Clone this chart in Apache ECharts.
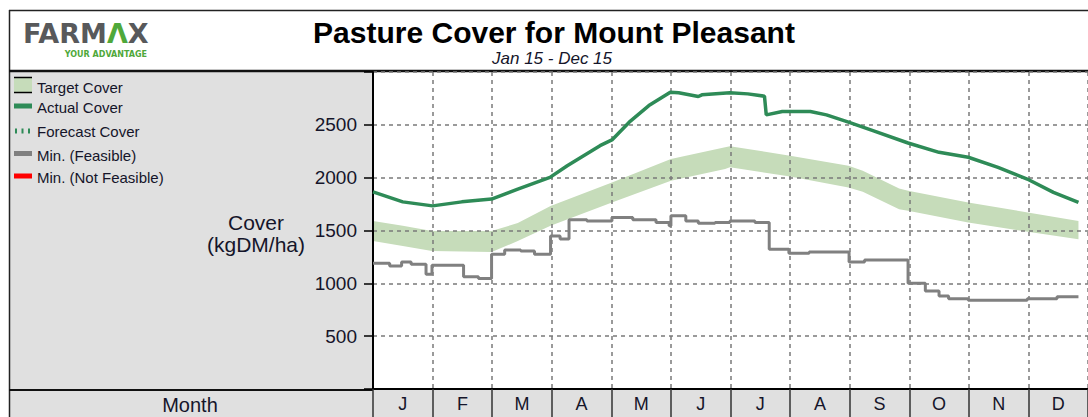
<!DOCTYPE html>
<html><head><meta charset="utf-8">
<script src="https://cdn.jsdelivr.net/npm/echarts@6/dist/echarts.min.js"></script>
<style>html,body{margin:0;padding:0;background:#fff}#c{width:1088px;height:417px}</style>
</head><body><div id="c"></div>
<script>
// ---- data (x positions in months from the left edge of January) ----
const months = ['J','F','M','A','M','J','J','A','S','O','N','D'];
const yTicks = [500, 1000, 1500, 2000, 2500];
const legendNames = ['Target Cover','Actual Cover','Forecast Cover','Min. (Feasible)','Min. (Not Feasible)'];

const actualMonth = [0.00,0.50,1.00,1.49,1.99,2.43,2.97,3.26,3.81,4.01,4.30,4.63,4.99,5.13,5.46,5.52,5.99,6.29,6.57,6.60,6.87,7.34,7.61,7.98,8.39,8.98,9.50,9.99,10.49,10.98,11.42,11.84];
const actualCover = [1866,1771,1733,1771,1797,1892,2003,2113,2303,2357,2525,2682,2809,2803,2768,2784,2803,2793,2771,2594,2626,2626,2594,2525,2445,2328,2240,2193,2098,1987,1861,1766];

const targetMonth = [0.00,0.50,0.99,1.99,2.43,2.98,4.01,5.00,5.91,5.99,7.00,7.98,8.22,8.83,8.98,9.99,10.99,11.84];
const targetLow  = [1401,1354,1307,1297,1400,1544,1766,1971,2082,2098,2012,1908,1866,1702,1686,1576,1487,1418];
const targetHigh = [1591,1544,1496,1496,1570,1733,1955,2177,2288,2297,2208,2113,2065,1898,1876,1766,1671,1591];

const minMonth = [0.00,0.28,0.48,0.64,0.89,0.99,1.52,1.77,1.99,2.21,2.48,2.71,2.98,3.14,3.29,3.59,4.01,4.36,4.75,4.97,5.00,5.25,5.46,5.74,5.99,6.41,6.65,6.98,7.32,7.99,8.25,8.98,9.27,9.50,9.66,9.99,10.98,11.48,11.84];
const minFeasible = [1190,1164,1202,1180,1085,1171,1063,1045,1275,1316,1306,1275,1449,1420,1601,1590,1623,1601,1576,1544,1639,1591,1569,1576,1591,1576,1323,1285,1297,1202,1221,1000,927,880,855,839,855,874,874];

// ---- styles ----
const FONT = 'Liberation Sans';
const LOGO_FONT = 'DejaVu Sans';
const TXT = '#15152a';
const GREEN = '#2e8b57';
const GREY = '#808080';
const BAND = '#c6dcba';
const PANEL = '#e0e0e0';

const zip = (xs, ys) => xs.map((x, i) => [x, ys[i]]);

const chart = echarts.init(document.getElementById('c'), null, {renderer: 'svg'});

const legendY = [87, 107, 131, 155, 177];
const legendGraphics = [
  {type:'rect', shape:{x:14,y:77,width:18,height:16}, style:{fill:BAND}},
  {type:'line', shape:{x1:14,y1:77.5,x2:32,y2:77.5}, style:{stroke:'#000',lineWidth:1.5}},
  {type:'line', shape:{x1:14,y1:92.5,x2:32,y2:92.5}, style:{stroke:'#000',lineWidth:1.5}},
  {type:'rect', shape:{x:14,y:103.5,width:18,height:5}, style:{fill:GREEN}},
  {type:'rect', shape:{x:15,y:128.5,width:2,height:5}, style:{fill:GREEN}},
  {type:'rect', shape:{x:21.5,y:128.5,width:2,height:5}, style:{fill:GREEN}},
  {type:'rect', shape:{x:28,y:128.5,width:2,height:5}, style:{fill:GREEN}},
  {type:'rect', shape:{x:14,y:151,width:18,height:5}, style:{fill:GREY}},
  {type:'rect', shape:{x:14,y:173.5,width:18,height:5}, style:{fill:'#ff0000'}}
];
legendNames.forEach((n, i) => legendGraphics.push({
  type:'text', x:37, y:legendY[i],
  style:{text:n, fill:TXT, font:'15px "'+FONT+'"', textVerticalAlign:'middle', textAlign:'left'}
}));

// band polygon built through the axis scales
function renderBand(params, api) {
  const upper = targetMonth.map((m, i) => api.coord([m, targetHigh[i]]));
  const lower = targetMonth.map((m, i) => api.coord([m, targetLow[i]])).reverse();
  return {type:'polygon', shape:{points: upper.concat(lower)}, style:{fill:BAND}, silent:true};
}

const option = {
  animation: false,
  textStyle: {fontFamily: FONT},
  grid: {left: 373, right: -10, top: 72, bottom: 28, containLabel: false},
  xAxis: [
    {type:'value', min:0, max:12, interval:1, position:'bottom', z:5,
     axisLine:{show:false}, axisTick:{show:false}, axisLabel:{show:false},
     splitLine:{show:true, lineStyle:{color:'#7a7a7a', width:1.5, type:[4,4]}}},
    {type:'category', data:months, position:'bottom', boundaryGap:true, z:6,
     axisLine:{show:true, lineStyle:{color:'#000', width:2}},
     axisTick:{show:true, length:28, lineStyle:{color:'#333', width:1.5}},
     axisLabel:{show:true, margin:6, fontSize:18, color:TXT, fontFamily:FONT},
     splitLine:{show:false}}
  ],
  yAxis: {type:'value', min:0, max:3000, interval:500, z:5,
    axisLine:{show:true, lineStyle:{color:'#000', width:2}},
    axisTick:{show:true, length:9, lineStyle:{color:'#000', width:1.5}},
    axisLabel:{margin:16, fontSize:19, color:TXT, fontFamily:FONT,
      formatter: v => yTicks.indexOf(v) >= 0 ? String(v) : ''},
    splitLine:{show:true, lineStyle:{color:'#7a7a7a', width:1.5, type:[4,4]}}},
  series: [
    {name:'Target Cover', type:'custom', xAxisIndex:0, data:[[0, 0]], renderItem: renderBand, silent:true, z:1,
     clip:true},
    {name:'Min. (Feasible)', type:'line', xAxisIndex:0, step:'end', symbol:'none',
     data: zip(minMonth, minFeasible), lineStyle:{color:GREY, width:3}, z:8},
    {name:'Actual Cover', type:'line', xAxisIndex:0, symbol:'none',
     data: zip(actualMonth, actualCover), lineStyle:{color:GREEN, width:3.5}, z:9}
  ],
  graphic: [
    {type:'group', silent:true, z:-10, children:[
      {type:'rect', shape:{x:9,y:71,width:364,height:346}, style:{fill:PANEL}},
      {type:'rect', shape:{x:373,y:390,width:715,height:27}, style:{fill:PANEL}}
    ]},
    {type:'group', silent:true, z:100, children:[
      {type:'line', shape:{x1:9,y1:10.5,x2:1088,y2:10.5}, style:{stroke:'#222',lineWidth:1.5}},
      {type:'line', shape:{x1:9.5,y1:10,x2:9.5,y2:417}, style:{stroke:'#222',lineWidth:1.5}},
      {type:'line', shape:{x1:9,y1:71,x2:1088,y2:71}, style:{stroke:'#111',lineWidth:2.5}},
      {type:'line', shape:{x1:9,y1:390,x2:373,y2:390}, style:{stroke:'#111',lineWidth:2}},
      {type:'text', x:554, y:32, style:{text:'Pasture Cover for Mount Pleasant', fill:'#000',
        font:'bold 30px "'+FONT+'"', textAlign:'center', textVerticalAlign:'middle'}},
      {type:'text', x:552, y:58, style:{text:'Jan 15 - Dec 15', fill:TXT,
        font:'italic 17px "'+FONT+'"', textAlign:'center', textVerticalAlign:'middle'}},
      {type:'text', x:23, y:33, style:{text:'{g|FARM}{a|Λ}{g|X}', textVerticalAlign:'middle',
        rich:{g:{fill:'#58595b', font:'bold 27px "'+LOGO_FONT+'"'}, a:{fill:'#4fa83a', font:'bold 27px "'+LOGO_FONT+'"'}}}},
      {type:'text', x:147, y:54, style:{text:'YOUR ADVANTAGE', fill:'#4fa83a',
        font:'bold 8px "'+LOGO_FONT+'"', textAlign:'right', textVerticalAlign:'middle'}},
      {type:'text', x:256, y:222, style:{text:'Cover', fill:TXT, font:'21px "'+FONT+'"', textAlign:'center', textVerticalAlign:'middle'}},
      {type:'text', x:256, y:244, style:{text:'(kgDM/ha)', fill:TXT, font:'21px "'+FONT+'"', textAlign:'center', textVerticalAlign:'middle'}},
      {type:'text', x:190, y:405, style:{text:'Month', fill:TXT, font:'20px "'+FONT+'"', textAlign:'center', textVerticalAlign:'middle'}}
    ].concat(legendGraphics)}
  ]
};
chart.setOption(option);
</script></body></html>
